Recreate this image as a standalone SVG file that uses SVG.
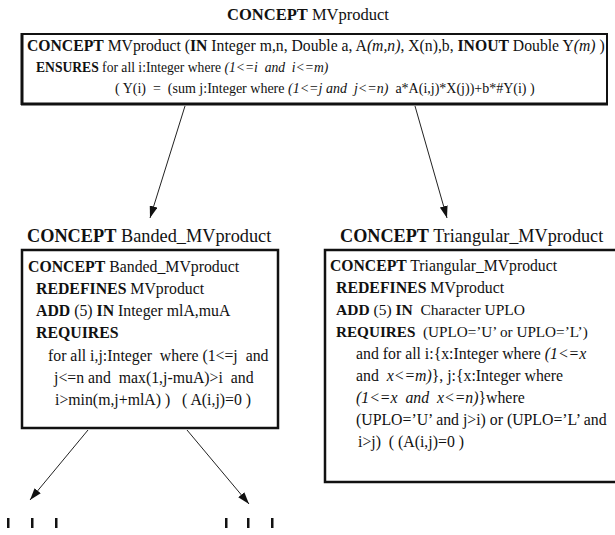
<svg xmlns="http://www.w3.org/2000/svg" width="615" height="535" viewBox="0 0 615 535">
<style>
text{font-family:"Liberation Serif","Times New Roman",serif;font-size:15.8px;fill:#111}
.b{font-weight:bold}
.i{font-style:italic}
.h{font-size:18.3px}
.box{fill:#fff;stroke:#111;stroke-width:2.5}
.con{stroke:#222;stroke-width:1;fill:none}
</style>
<defs>
<marker id="ah" viewBox="0 0 12 8" refX="12" refY="4" markerWidth="12" markerHeight="8" markerUnits="userSpaceOnUse" orient="auto">
<path d="M0,0 L12,4 L0,8 Z" fill="#111"/>
</marker>
</defs>
<rect width="615" height="535" fill="#fff"/>

<g id="mvproduct">
<text x="308" y="20" text-anchor="middle" style="font-size:16.5px"><tspan class="b">CONCEPT</tspan> MVproduct</text>
<rect class="box" x="22" y="34" width="585" height="70" style="stroke-width:2"/>
<path d="M22,33 V105 M21,104 H608" stroke="#111" stroke-width="3" fill="none"/>
<text x="27" y="51" style="font-size:15.7px"><tspan class="b">CONCEPT</tspan> MVproduct (<tspan class="b">IN</tspan> Integer m,n, Double a, A<tspan class="i">(m,n)</tspan>, X(n),b, <tspan class="b">INOUT</tspan> Double Y<tspan class="i">(m)</tspan> )</text>
<text x="36" y="72" style="font-size:13.6px" xml:space="preserve"><tspan class="b">ENSURES</tspan> for all i:Integer where <tspan class="i">(1&lt;=i  and  i&lt;=m)</tspan></text>
<text x="115" y="93" style="font-size:14px" xml:space="preserve">( Y(i)  =  (sum j:Integer where <tspan class="i">(1&lt;=j and  j&lt;=n)</tspan>  a*A(i,j)*X(j))+b*#Y(i) )</text>
</g>

<g id="banded">
<text class="h" x="27" y="242"><tspan class="b">CONCEPT</tspan> Banded_MVproduct</text>
<rect class="box" x="22" y="250" width="256" height="178"/>
<text x="28" y="272"><tspan class="b">CONCEPT</tspan> Banded_MVproduct</text>
<text x="36" y="294"><tspan class="b">REDEFINES</tspan> MVproduct</text>
<text x="36" y="316"><tspan class="b">ADD</tspan> (5) <tspan class="b">IN</tspan> Integer mlA,muA</text>
<text class="b" x="36" y="338">REQUIRES</text>
<text x="48" y="361" xml:space="preserve">for all i,j:Integer  where (1&lt;=j  and</text>
<text x="54" y="383" xml:space="preserve">j&lt;=n and  max(1,j-muA)&gt;i  and</text>
<text x="55" y="405" xml:space="preserve">i&gt;min(m,j+mlA) )   ( A(i,j)=0 )</text>
</g>

<g id="triangular">
<text class="h" x="340" y="242" style="font-size:18.2px"><tspan class="b">CONCEPT</tspan> Triangular_MVproduct</text>
<rect class="box" x="325" y="250" width="295" height="232"/>
<text x="330" y="271" style="font-size:15.7px"><tspan class="b">CONCEPT</tspan> Triangular_MVproduct</text>
<text x="336" y="293"><tspan class="b">REDEFINES</tspan> MVproduct</text>
<text x="336" y="315" style="font-size:15.5px" xml:space="preserve"><tspan class="b">ADD</tspan> (5) <tspan class="b">IN</tspan>  Character UPLO</text>
<text x="336" y="337" style="font-size:15.2px" xml:space="preserve"><tspan class="b">REQUIRES</tspan>  (UPLO=’U’ or UPLO=’L’)</text>
<text x="356" y="359">and for all i:{x:Integer where <tspan class="i">(1&lt;=x</tspan></text>
<text x="356" y="381" xml:space="preserve">and  <tspan class="i">x&lt;=m)</tspan>}, j:{x:Integer where</text>
<text x="356" y="403" xml:space="preserve"><tspan class="i">(1&lt;=x  and  x&lt;=n)</tspan>}where</text>
<text x="356" y="425">(UPLO=’U’ and j&gt;i) or (UPLO=’L’ and</text>
<text x="358" y="447" xml:space="preserve">i&gt;j)  ( (A(i,j)=0 )</text>
</g>

<g id="connectors">
<line class="con" x1="185" y1="106" x2="150" y2="218" marker-end="url(#ah)"/>
<line class="con" x1="415" y1="106" x2="447" y2="218" marker-end="url(#ah)"/>
<line class="con" x1="88" y1="430" x2="30" y2="500" marker-end="url(#ah)"/>
<line class="con" x1="187" y1="430" x2="249" y2="504" marker-end="url(#ah)"/>
</g>

<g id="ticks" fill="#111">
<rect x="7" y="518" width="2.5" height="10"/>
<rect x="31" y="518" width="2.5" height="10"/>
<rect x="55" y="518" width="2.5" height="10"/>
<rect x="225" y="518" width="2.5" height="10"/>
<rect x="247" y="518" width="2.5" height="10"/>
<rect x="271" y="518" width="2.5" height="10"/>
</g>
</svg>
